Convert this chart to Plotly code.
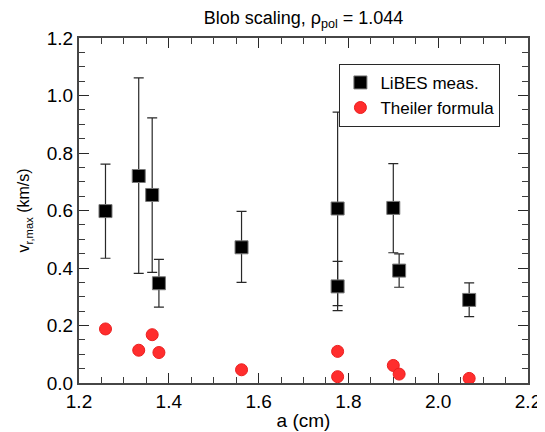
import plotly.graph_objects as go

# LiBES measurements
a_meas = [1.259, 1.333, 1.363, 1.378, 1.562, 1.776, 1.776, 1.900, 1.913, 2.069]
v_meas = [0.598, 0.720, 0.654, 0.347, 0.472, 0.607, 0.336, 0.609, 0.391, 0.289]
v_hi = [0.761, 1.061, 0.922, 0.430, 0.597, 0.942, 0.423, 0.763, 0.449, 0.348]
v_lo = [0.434, 0.381, 0.385, 0.264, 0.350, 0.269, 0.252, 0.453, 0.333, 0.231]

# Theiler formula
a_th = [1.259, 1.333, 1.363, 1.378, 1.562, 1.776, 1.776, 1.900, 1.913, 2.069]
v_th = [0.188, 0.114, 0.168, 0.106, 0.046, 0.110, 0.022, 0.061, 0.031, 0.016]

x_range = [1.2, 2.2]
y_range = [0, 1.2]

err_plus = [h - v for h, v in zip(v_hi, v_meas)]
err_minus = [v - l for l, v in zip(v_lo, v_meas)]

FONT = "Liberation Sans, Arial"

fig = go.Figure()
fig.add_trace(go.Scatter(
    x=a_meas, y=v_meas, mode="markers", name="LiBES meas.",
    marker=dict(symbol="square", size=13, color="black",
                line=dict(color="rgb(120,120,120)", width=1)),
    error_y=dict(type="data", symmetric=False, array=err_plus,
                 arrayminus=err_minus, color="rgb(40,40,40)",
                 thickness=1.2, width=5),
))
fig.add_trace(go.Scatter(
    x=a_th, y=v_th, mode="markers", name="Theiler formula",
    marker=dict(symbol="circle", size=12, color="rgb(255,45,45)",
                line=dict(color="rgb(235,30,30)", width=1)),
))
# invisible trace so the top/right tick axes exist
fig.add_trace(go.Scatter(x=[None], y=[None], xaxis="x2", yaxis="y2",
                         showlegend=False, hoverinfo="skip"))

tick_common = dict(
    ticks="inside", ticklen=10, tickwidth=1.2, tickcolor="rgb(40,40,40)",
    showgrid=False, zeroline=False, automargin=False,
    minor=dict(ticks="inside", ticklen=6, tickwidth=1, tickcolor="rgb(60,60,60)",
               dtick=0.05, showgrid=False),
)
axis_common = dict(
    tick_common,
    showline=True, linecolor="rgb(70,70,70)", linewidth=2, mirror=True,
    tickfont=dict(family=FONT, size=19, color="black"),
)

# page body adds an 8px offset, so the figure is 8px smaller than the window
fig.update_layout(
    xaxis=dict(axis_common, range=x_range, dtick=0.2, tick0=1.2, tickformat=".1f",
               title=dict(text="a (cm)", standoff=3,
                          font=dict(family=FONT, size=19, color="black"))),
    yaxis=dict(axis_common, range=y_range, dtick=0.2, tick0=0, tickformat=".1f",
               title=dict(text="v<sub>r,max</sub> (km/s)", standoff=13,
                          font=dict(family=FONT, size=16, color="black"))),
    xaxis2=dict(tick_common, range=x_range, dtick=0.2, tick0=1.2, overlaying="x",
                side="top", anchor="y2", showticklabels=False),
    yaxis2=dict(tick_common, range=y_range, dtick=0.2, tick0=0, overlaying="y",
                side="right", anchor="x2", showticklabels=False),
    width=537, height=424,
    margin=dict(l=71, r=17, t=30, b=49),
    paper_bgcolor="white", plot_bgcolor="white",
    title=dict(text="Blob scaling, ρ<sub>pol</sub> = 1.044", x=0.5, xref="paper",
               xanchor="center", y=1 - 10 / 424, yref="container", yanchor="middle",
               automargin=False,
               font=dict(family=FONT, size=18, color="black")),
    legend=dict(x=0.58, y=0.925, xanchor="left", yanchor="top",
                bordercolor="rgb(40,40,40)", borderwidth=1, bgcolor="white",
                font=dict(family=FONT, size=17, color="black"),
                itemwidth=30, tracegroupgap=0),
    showlegend=True,
)

fig.write_html("out.html")
